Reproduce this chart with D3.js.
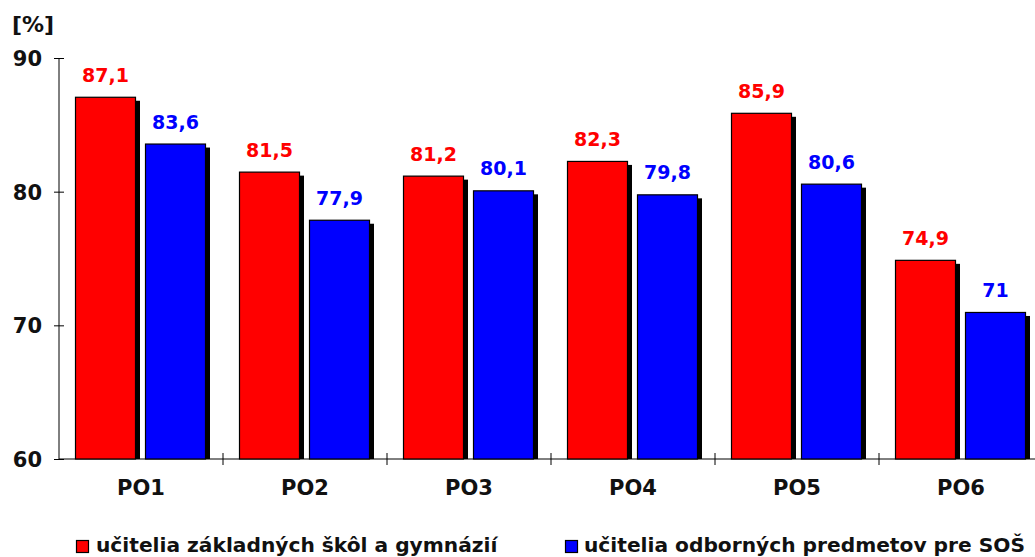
<!DOCTYPE html>
<html>
<head>
<meta charset="utf-8">
<script src="https://cdn.jsdelivr.net/npm/d3@7"></script>
<style>
  html, body { margin: 0; padding: 0; background: #fff; }
  svg { display: block; }
  text { font-family: "DejaVu Sans", Verdana, sans-serif; font-weight: bold; }
</style>
</head>
<body>
<svg id="chart" width="1035" height="557"></svg>
<script>
// Categories and series
const categories = ["PO1", "PO2", "PO3", "PO4", "PO5", "PO6"];
const seriesNames = ["učitelia základných škôl a gymnázií", "učitelia odborných predmetov pre SOŠ"];
const zsValues = [87.1, 81.5, 81.2, 82.3, 85.9, 74.9];
const sosValues = [83.6, 77.9, 80.1, 79.8, 80.6, 71];
const yTicks = [60, 70, 80, 90];
const colors = ["#ff0000", "#0000ff"];

(function () {
const svg = d3.select("#chart");
const plotLeft = 59, plotTop = 58, plotBottom = 459;
const bandW = 164;

const x = d3.scaleBand().domain(categories)
  .range([plotLeft, plotLeft + bandW * categories.length]).paddingInner(0).paddingOuter(0);
const y = d3.scaleLinear().domain([60, 90]).range([plotBottom, plotTop]);

const fmt = v => String(v).replace(".", ",");

// axes
const yAxis = d3.axisLeft(y).tickValues(yTicks).tickSize(5).tickPadding(12).tickFormat(d3.format("d"));
const gy = svg.append("g").attr("transform", `translate(${plotLeft},0)`).call(yAxis);
gy.select(".domain").attr("stroke", "#000").attr("d", `M0,${plotTop}V${plotBottom}`);
gy.selectAll(".tick line").attr("stroke", "#000").attr("x2", -5).attr("x1", 5);
gy.selectAll(".tick text").attr("fill", "#111").attr("font-size", 21)
  .attr("font-family", "DejaVu Sans").attr("font-weight", "bold").attr("dy", "0.36em");

const xAxis = d3.axisBottom(x).tickSize(0).tickPadding(21);
const gx = svg.append("g").attr("transform", `translate(0,${plotBottom})`).call(xAxis);
gx.select(".domain").attr("stroke", "#000").attr("d", `M${plotLeft},0H1035`);
gx.selectAll(".tick text").attr("fill", "#111").attr("font-size", 21)
  .attr("font-family", "DejaVu Sans").attr("font-weight", "bold");
// category separator ticks
svg.append("g").selectAll("line")
  .data(categories.slice(1).map(c => x(c)))
  .join("line")
  .attr("x1", d => d).attr("x2", d => d)
  .attr("y1", plotBottom - 6).attr("y2", plotBottom + 6)
  .attr("stroke", "#000");

// y unit
svg.append("text").attr("x", 12).attr("y", 32).attr("font-size", 22).attr("fill", "#111").text("[%]");

// bars
const series = [zsValues, sosValues];
const offsets = [16, 86];
const barW = 61;
const shadow = 4;

series.forEach((vals, si) => {
  const g = svg.append("g");
  const data = categories.map((c, i) => ({ c, v: vals[i] }));
  // drop shadow
  g.selectAll("rect.shadow").data(data).join("rect")
    .attr("class", "shadow")
    .attr("x", d => x(d.c) + offsets[si] + shadow)
    .attr("y", d => y(d.v) + shadow)
    .attr("width", barW)
    .attr("height", d => plotBottom - y(d.v) - shadow)
    .attr("fill", "#000");
  g.selectAll("rect.bar").data(data).join("rect")
    .attr("class", "bar")
    .attr("x", d => x(d.c) + offsets[si] + 0.5)
    .attr("y", d => y(d.v) + 0.5)
    .attr("width", barW - 1)
    .attr("height", d => plotBottom - y(d.v) - 0.5)
    .attr("fill", colors[si])
    .attr("stroke", "#000").attr("stroke-width", 1.2);
  g.selectAll("text.val").data(data).join("text")
    .attr("class", "val")
    .attr("x", d => x(d.c) + offsets[si] + barW / 2)
    .attr("y", d => y(d.v) - 15)
    .attr("text-anchor", "middle")
    .attr("font-size", 19)
    .attr("fill", colors[si])
    .text(d => fmt(d.v));
});

// legend
const legend = [[76, 96], [565, 584]];
seriesNames.forEach((name, i) => {
  svg.append("rect")
    .attr("x", legend[i][0] + 0.5).attr("y", 540.5)
    .attr("width", 12).attr("height", 12)
    .attr("fill", colors[i]).attr("stroke", "#000").attr("stroke-width", 1.2);
  svg.append("text")
    .attr("x", legend[i][1]).attr("y", 552)
    .attr("font-size", 20.2).attr("fill", "#111")
    .text(name);
});
})();
</script>
</body>
</html>
